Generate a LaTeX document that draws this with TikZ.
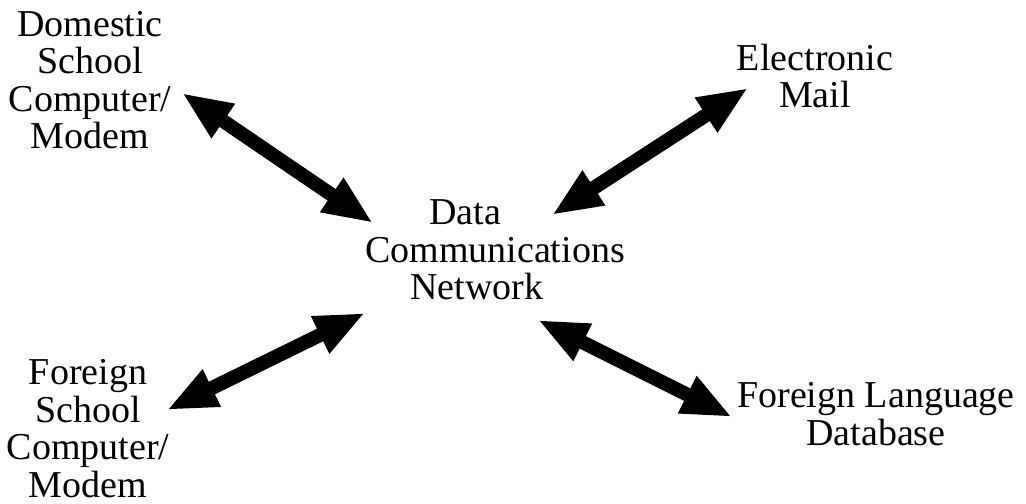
\documentclass[tikz,border=0pt]{standalone}
\usepackage{fontspec}
\setmainfont{Liberation Serif}
\usetikzlibrary{arrows.meta}
\tikzset{
  lbl/.style={align=center, inner sep=0pt, anchor=base,
    font=\fontsize{38bp}{37.5bp}\selectfont},
  dblarrow/.style={line width=14bp,
    {Triangle[length=50bp,width=38bp]}-{Triangle[length=50bp,width=38bp]}}
}
\begin{document}
\begin{tikzpicture}[x=1bp,y=-1bp]
\useasboundingbox (0,0) rectangle (1026,504);
% anchor=base sits on the last line's baseline
\node[lbl] (dom) at (90,149) {Domestic\\School\\Computer/\\Modem};
\node[lbl] (mail) at (815,108) {Electronic\\Mail};
\node[lbl] (net) at (495,300) {Data\hspace*{60bp}\\Communications\\Network\hspace*{36bp}};
\node[lbl] (fsc) at (88,497) {Foreign\\School\\Computer/\\Modem};
\node[lbl] (fld) at (876,445) {Foreign Language\\Database};
\coordinate (a1s) at (182,93);
\coordinate (a1e) at (373,223);
\coordinate (a2s) at (748,88);
\coordinate (a2e) at (552,215);
\coordinate (a3s) at (365,313);
\coordinate (a3e) at (167,410);
\coordinate (a4s) at (538,320);
\coordinate (a4e) at (732,417);
\draw[dblarrow] (a1s) -- (a1e);
\draw[dblarrow] (a2s) -- (a2e);
\draw[dblarrow] (a3s) -- (a3e);
\draw[dblarrow] (a4s) -- (a4e);
\end{tikzpicture}
\end{document}
